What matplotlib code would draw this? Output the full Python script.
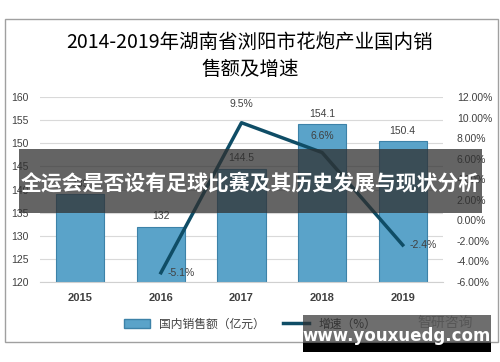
import matplotlib
matplotlib.use('Agg')
import matplotlib.pyplot as plt
from matplotlib.patches import Rectangle, Patch
from matplotlib.lines import Line2D
from matplotlib import ticker

plt.rcParams['font.family'] = ['Noto Sans CJK SC', 'DejaVu Sans']

years = ['2015', '2016', '2017', '2018', '2019']
sales = [139.0, 132, 144.5, 154.1, 150.4]
sales_labels = ['139', '132', '144.5', '154.1', '150.4']
growth_years = ['2016', '2017', '2018', '2019']
growth = [-5.1, 9.5, 6.6, -2.4]
title = '2014-2019年湖南省浏阳市花炮产业国内销\n售额及增速'
banner = '全运会是否设有足球比赛及其历史发展与现状分析'

bar_col = '#5aa3c9'
line_col = '#0f4d66'

fig = plt.figure(figsize=(5, 3.62), dpi=100)
ax = fig.add_axes([0.08, 0.221, 0.806, 0.511])

x = list(range(len(years)))
ax.bar(x, [s - 120 for s in sales], bottom=120, width=0.6, color=bar_col,
       edgecolor='#3d82a8', linewidth=0.8, zorder=2)
for xi, s, lab in zip(x, sales, sales_labels):
    ax.text(xi, s + 1.2, lab, ha='center', va='bottom', fontsize=7.5,
            color='#404040', family=['Liberation Sans', 'DejaVu Sans'])

ax.set_xlim(-0.5, 4.5)
ax.set_ylim(120, 160)
ax.yaxis.set_major_locator(ticker.MultipleLocator(5))
ax.grid(axis='y', color='#d9d9d9', linewidth=0.8, zorder=0)
ax.set_axisbelow(True)
for sp in ['top', 'left', 'right']:
    ax.spines[sp].set_visible(False)
ax.spines['bottom'].set_color('#d0d0d0')
ax.set_xticks(x)
ax.set_xticklabels(years, fontweight='bold', fontsize=8, color='#404040',
                   family=['Liberation Sans', 'DejaVu Sans'])
ax.tick_params(axis='both', length=0, pad=8)
for t in ax.get_yticklabels():
    t.set_fontsize(7.5)
    t.set_color('#404040')
    t.set_family(['Liberation Sans', 'DejaVu Sans'])

ax2 = ax.twinx()
gx = [years.index(y) for y in growth_years]
ax2.plot(gx, growth, color=line_col, linewidth=2.5, zorder=3)
ax2.set_ylim(-6, 12)
ax2.yaxis.set_major_locator(ticker.MultipleLocator(2))
ax2.yaxis.set_major_formatter(ticker.FuncFormatter(lambda v, p: '%.2f%%' % v))
for sp in ['top', 'left', 'right', 'bottom']:
    ax2.spines[sp].set_visible(False)
ax2.tick_params(axis='y', length=0, pad=10)
for t in ax2.get_yticklabels():
    t.set_fontsize(7.5)
    t.set_color('#404040')
    t.set_family(['Liberation Sans', 'DejaVu Sans'])
offsets = [(0.25, 0.0), (0.0, 1.3), (0.0, 1.1), (0.25, 0.0)]
for xi, g, (dx, dy) in zip(gx, growth, offsets):
    ax2.text(xi + dx, g + dy, '%.1f%%' % g, ha='center',
             va='center' if dy == 0 else 'bottom', fontsize=7.5,
             color='#404040', family=['Liberation Sans', 'DejaVu Sans'])

# title
fig.text(0.5, 1 - 56 / 362, title, ha='center', va='center', fontsize=14,
         color='black', linespacing=1.35)

# frame
fig.add_artist(Rectangle((0.009, 1 - 342 / 362), 0.986, (342 - 19) / 362,
                         transform=fig.transFigure, fill=False,
                         edgecolor='#a0a0a0', linewidth=1.0))

# legend
handles = [Patch(facecolor=bar_col, edgecolor='#3d82a8'),
           Line2D([0], [0], color=line_col, linewidth=2.5)]
fig.legend(handles, ['国内销售额（亿元）', '增速（%）'], loc='center',
           bbox_to_anchor=(0.5, 1 - 324 / 362), ncol=2, frameon=False,
           fontsize=8.5, handlelength=2.2, columnspacing=1.5,
           labelcolor='#404040')

fig.text(0.89, 1 - 323 / 362, '智研咨询', ha='center', va='center',
         fontsize=10, color='#b0b0b0')

# banner overlay
fig.add_artist(Rectangle((19 / 500, 1 - 213 / 362), 463 / 500, 64 / 362,
                         transform=fig.transFigure, facecolor='#303030',
                         alpha=0.75, edgecolor='none', zorder=10))
fig.text(0.5, 1 - 183 / 362, banner, ha='center', va='center', fontsize=15,
         color='white', fontweight='bold', zorder=11)

# watermark
fig.add_artist(Rectangle((303 / 500, 1 - 343 / 362), 188 / 500, 28 / 362,
                         transform=fig.transFigure, facecolor='#303030',
                         alpha=0.7, edgecolor='none', zorder=10))
fig.add_artist(Rectangle((303 / 500, 1 - 352 / 362), 188 / 500, 9 / 362,
                         transform=fig.transFigure, facecolor='black',
                         edgecolor='none', zorder=10))
fig.text(397 / 500, 1 - 336 / 362, 'www.youxuedg.com', ha='center', va='center',
         fontsize=12, color='white', fontweight='bold', zorder=11,
         family=['DejaVu Sans'])

fig.savefig('out.png', dpi=100)
